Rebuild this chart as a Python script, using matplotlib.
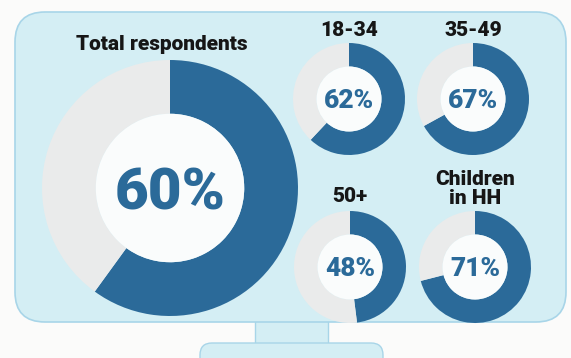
import matplotlib
matplotlib.use('Agg')
import matplotlib.pyplot as plt
import matplotlib.patches as patches

# Survey shares (percent of respondents)
groups = ['Total respondents', '18-34', '35-49', '50+', 'Children\nin HH']
shares = [60, 62, 67, 48, 71]

BLUE = '#2b6a99'
GREY = '#eaebeb'
SCREEN = '#d4eef4'
EDGE = '#a8d5e8'

W, H = 571, 358
fig = plt.figure(figsize=(W / 100, H / 100), dpi=100)
fig.patch.set_facecolor('#fbfbfa')
ax = fig.add_axes([0, 0, 1, 1])


def Y(y):
    # pixel rows measured from the top
    return H - y


# monitor stand
ax.add_patch(patches.Rectangle((255, Y(346)), 73, 26, facecolor=SCREEN,
                               edgecolor=EDGE, lw=1, zorder=1))
ax.add_patch(patches.FancyBboxPatch((200, Y(375)), 183, 32,
                                    boxstyle='round,pad=0,rounding_size=12',
                                    facecolor=SCREEN, edgecolor=EDGE, lw=1, zorder=1))
# monitor screen
ax.add_patch(patches.FancyBboxPatch((15, Y(322)), 551, 310,
                                    boxstyle='round,pad=0,rounding_size=30',
                                    facecolor=SCREEN, edgecolor=EDGE, lw=1.2, zorder=2))

font = 'Roboto'
layout = [  # centre x, centre y, radius, label y
    (170, 188, 128, 45),
    (349, 99, 56, 30),
    (473, 99, 56, 30),
    (350, 267, 56, 196),
    (475, 267, 56, 189),
]
for (cx, cy, r, ly), name, pct in zip(layout, groups, shares):
    ax.pie([pct, 100 - pct], colors=[BLUE, GREY], startangle=90, counterclock=False,
           radius=r, center=(cx, Y(cy)),
           wedgeprops=dict(width=0.42 * r, lw=0, zorder=3))
    ax.add_patch(patches.Circle((cx, Y(cy)), 0.58 * r, facecolor='#fafcfc',
                                edgecolor='none', zorder=4))
    big = r > 100
    ax.text(cx, Y(cy), f'{pct}%', ha='center', va='center_baseline',
            fontsize=42 if big else 19, fontweight='heavy', color=BLUE,
            family=font, zorder=5)
    ax.text(cx - (8 if big else 0), Y(ly), name, ha='center', va='center',
            fontsize=15, fontweight='heavy', color='#161616', family=font,
            linespacing=1.0, zorder=5)

ax.set_xlim(0, W)
ax.set_ylim(0, H)
ax.set_aspect('auto')
ax.axis('off')

fig.savefig('out.png', dpi=100, facecolor=fig.get_facecolor())
